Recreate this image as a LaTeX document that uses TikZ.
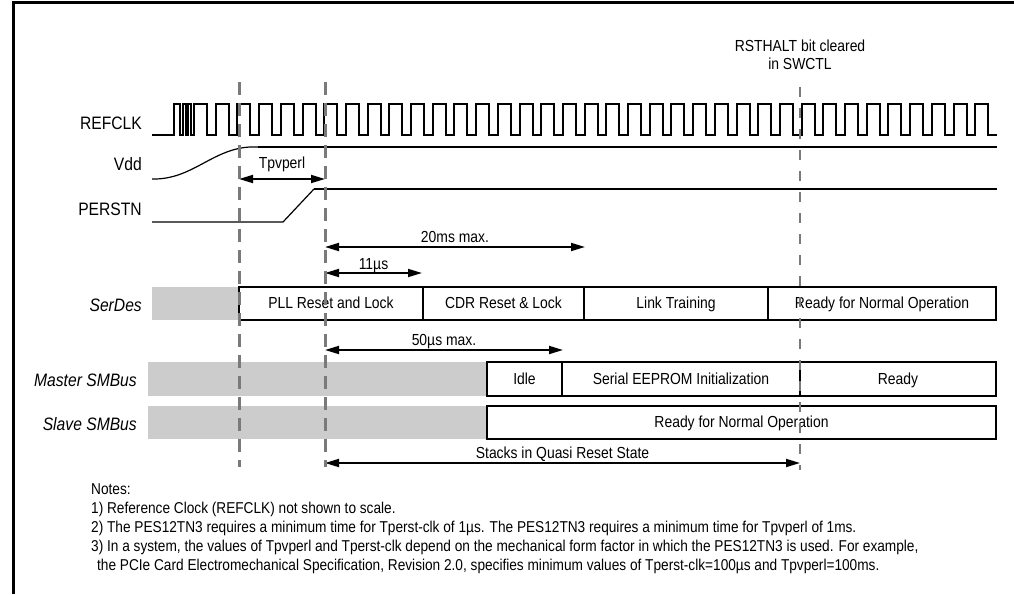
\documentclass[tikz,border=0pt]{standalone}
\usepackage{fontspec}
\setmainfont{Liberation Sans}[FakeStretch=0.87]
\usetikzlibrary{arrows.meta}
\definecolor{guidegray}{RGB}{122,122,122}
\definecolor{holdgray}{RGB}{204,204,204}
\begin{document}
\begin{tikzpicture}[x=1pt, y=-1pt,
    wave/.style={line width=2pt, line join=miter},
    level/.style={line width=2.4pt},
    ramp/.style={line width=1.2pt},
    marker/.style={guidegray, line width=3pt, dash pattern=on 13pt off 8pt},
    span/.style={{Triangle[length=14pt,width=8pt]}-{Triangle[length=14pt,width=8pt]}, line width=1.8pt},
    tag/.style={anchor=base, yshift=5pt, inner sep=0pt, font=\fontsize{16}{18}\selectfont},
    sig/.style={anchor=east, inner sep=0pt, font=\fontsize{18}{20}\selectfont},
    lane/.style={anchor=east, inner sep=0pt, font=\fontsize{18}{20}\selectfont\itshape},
    phase/.style={draw, line width=2pt, font=\fontsize{16}{18}\selectfont},
    hold/.style={fill=holdgray},
    note/.style={anchor=base west, inner sep=0pt, font=\fontsize{15.7}{19}\selectfont}]
    \useasboundingbox (0,0) rectangle (1014,594);
    \draw[line width=3pt] (13,594) -- (13,3) -- (1014,3);

    % signal names
    \node[sig] (refclk) at (142,123.5) {REFCLK};
    \node[sig] (vdd) at (142,164) {Vdd};
    \node[sig] (perstn) at (142,209) {PERSTN};
    \node[lane] (serdes) at (142,305) {SerDes};
    \node[lane] (master) at (137,380) {Master SMBus};
    \node[lane] (slave) at (137,424) {Slave SMBus};

    % waveforms
    \draw[wave] (152,135) -- (174,135) |- (180,104) |- (183,135) |- (186,104) |- (188,135) |- (191,104) |- (194,135)
        \foreach \k in {0,...,36} { |- ({194+21.7*\k+13},104) |- ({194+21.7*(\k+1)},135) };
    \draw[ramp] (152,179) .. controls (192,180) and (212,149) .. (250,147) -- (258,147);
    \draw[level] (258,147) -- (997,147);
    \draw[ramp] (152,222) -- (283,222) -- (314,189);
    \draw[level] (314,189) -- (997,189);

    % state lanes
    \fill[hold] (152,287) rectangle (239,320);
    \draw[phase] (239,287) rectangle node[text height=12pt, text depth=2pt] (pll) {PLL Reset and Lock} (423,320);
    \draw[phase] (423,287) rectangle node[text height=12pt, text depth=2pt] (cdr) {CDR Reset \& Lock} (584,320);
    \draw[phase] (584,287) rectangle node[text height=12pt, text depth=2pt] (link) {Link Training} (768,320);
    \draw[phase] (768,287) rectangle node[text height=12pt, text depth=2pt] (sdready) {Ready for Normal Operation} (996,320);
    \fill[hold] (148,362) rectangle (487,396);
    \draw[phase] (487,362) rectangle node[text height=12pt, text depth=2pt] (idle) {Idle} (562,396);
    \draw[phase] (562,362) rectangle node[text height=12pt, text depth=2pt] (eeprom) {Serial EEPROM Initialization} (800,396);
    \draw[phase] (800,362) rectangle node[text height=12pt, text depth=2pt] (mready) {Ready} (996,396);
    \fill[hold] (148,406) rectangle (487,439);
    \draw[phase] (487,406) rectangle node[text height=12pt, text depth=2pt] (sready) {Ready for Normal Operation} (996,439);

    % timing spans
    \coordinate (tpL) at (239,179);
    \coordinate (tpR) at (325,179);
    \coordinate (msL) at (325,247);
    \coordinate (msR) at (585,247);
    \coordinate (usL) at (325,273);
    \coordinate (usR) at (422,273);
    \coordinate (smL) at (325,350);
    \coordinate (smR) at (563,350);
    \coordinate (qrL) at (325,463);
    \coordinate (qrR) at (800,463);
    \draw[span] (tpL) -- node[tag, yshift=6pt] (tpvperl) {Tpvperl} (tpR);
    \draw[span] (msL) -- node[tag] (twentyms) {20ms max.} (msR);
    \draw[span] (usL) -- node[tag, yshift=-1pt] (elevenus) {11µs} (usR);
    \draw[span] (smL) -- node[tag] (fiftyus) {50µs max.} (smR);
    \draw[span] (qrL) -- node[tag] (quasi) {Stacks in Quasi Reset State} (qrR);

    % event markers
    \draw[marker] (239,82) -- (239,467);
    \draw[marker] (325,82) -- (325,467);
    \draw[marker, line width=2pt, dash pattern=on 10pt off 11pt] (800,87) -- (800,470);
    \node[align=center, anchor=south, inner sep=0pt, font=\fontsize{16}{18}\selectfont] (rsthalt) at (800,70) {RSTHALT bit cleared\\in SWCTL};

    % notes
    \node[note] (note0) at (91,494) {Notes:};
    \node[note] (note1) at (91,513) {1) Reference Clock (REFCLK) not shown to scale.};
    \node[note] (note2) at (91,532) {2) The PES12TN3 requires a minimum time for Tperst-clk of 1µs. The PES12TN3 requires a minimum time for Tpvperl of 1ms.};
    \node[note] (note3) at (91,551) {3) In a system, the values of Tpvperl and Tperst-clk depend on the mechanical form factor in which the PES12TN3 is used. For example,};
    \node[note] (note4) at (97,570) {the PCIe Card Electromechanical Specification, Revision 2.0, specifies minimum values of Tperst-clk=100µs and Tpvperl=100ms.};
\end{tikzpicture}
\end{document}
